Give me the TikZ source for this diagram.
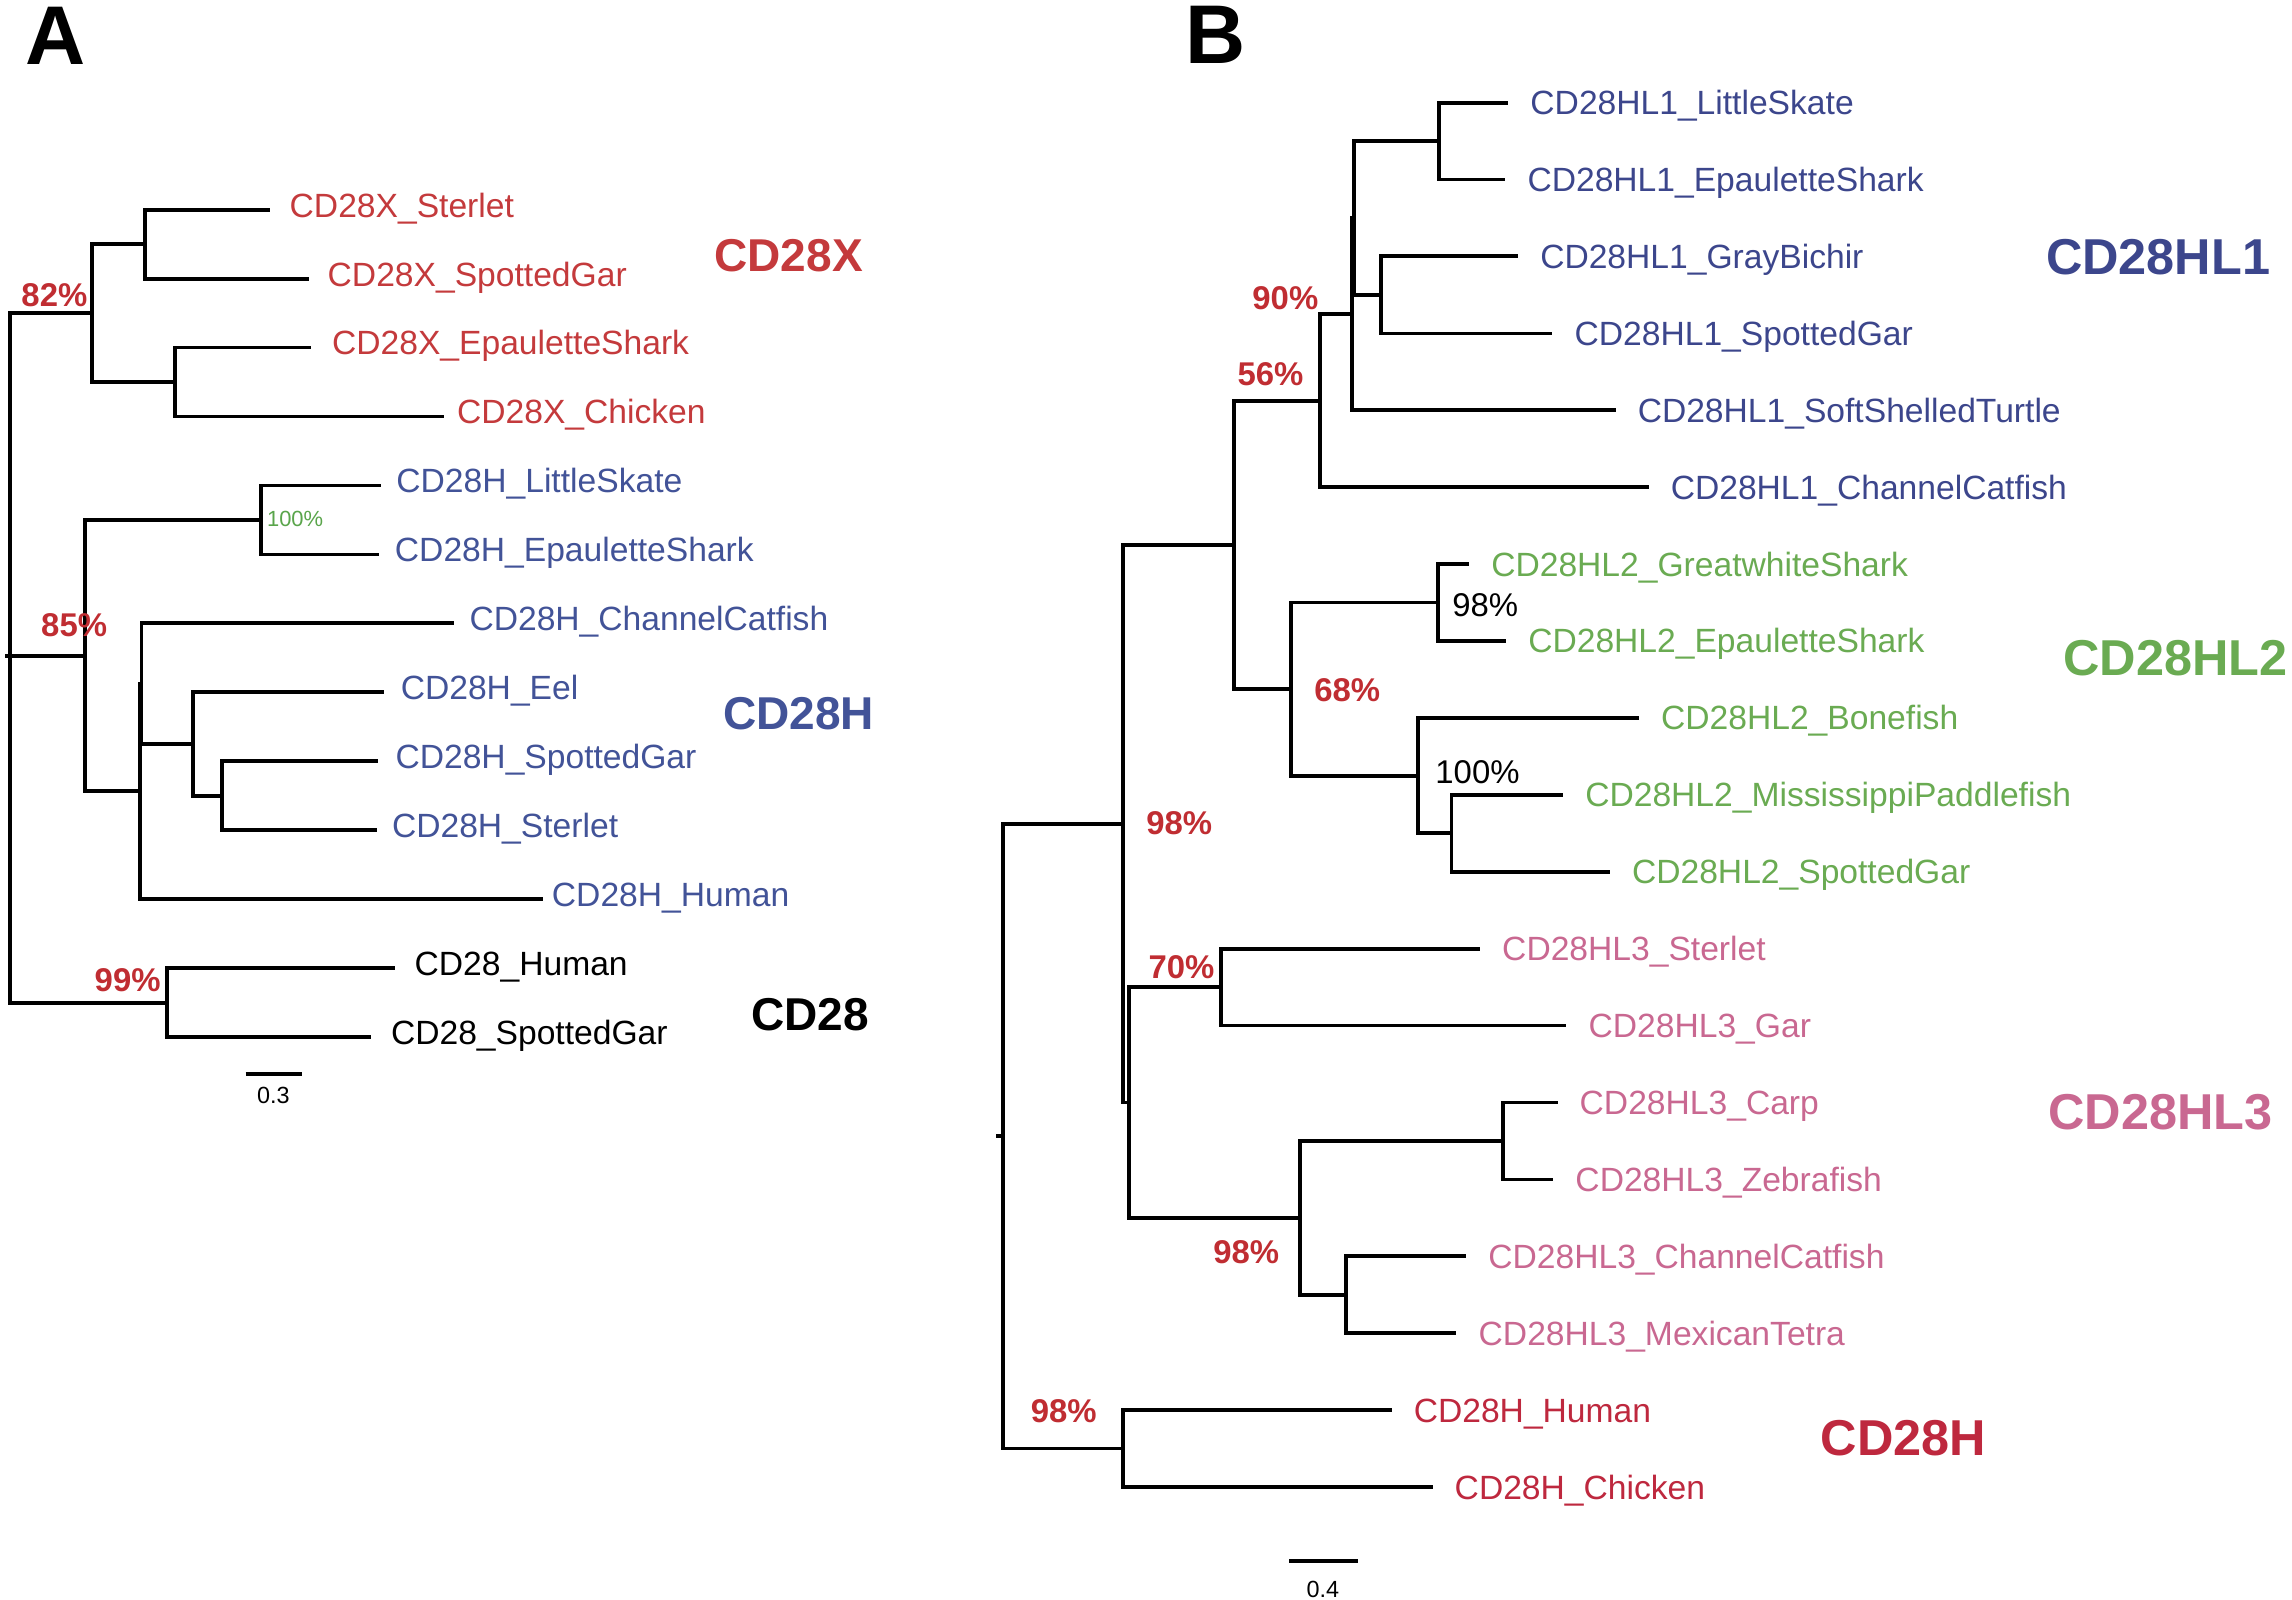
\documentclass[tikz,border=0pt]{standalone}
\usepackage{fontspec}
\setmainfont{Liberation Sans}
\definecolor{xred}{RGB}{196,58,60}
\definecolor{hblue}{RGB}{66,83,152}
\definecolor{lblue}{RGB}{60,70,140}
\definecolor{lgreen}{RGB}{106,171,82}
\definecolor{lpink}{RGB}{201,104,145}
\definecolor{hred}{RGB}{190,40,62}
\definecolor{bred}{RGB}{192,45,50}
\definecolor{sgreen}{RGB}{90,165,75}
\tikzset{
 br/.style={line width=2.6pt, line cap=butt},
 lA/.style={anchor=base west, inner sep=0pt, font=\fontsize{23}{27}\selectfont},
 lB/.style={anchor=base west, inner sep=0pt, font=\fontsize{23}{27}\selectfont},
 boot/.style={anchor=base west, inner sep=0pt, font=\bfseries\fontsize{22.5}{26}\selectfont, text=bred},
 bootk/.style={anchor=base west, inner sep=0pt, font=\fontsize{22.5}{26}\selectfont, text=black},
 bootg/.style={anchor=base west, inner sep=0pt, font=\fontsize{15}{18}\selectfont, text=sgreen},
 cladeA/.style={anchor=base west, inner sep=0pt, font=\bfseries\fontsize{31.5}{36}\selectfont},
 cladeB/.style={anchor=base west, inner sep=0pt, font=\bfseries\fontsize{34.5}{40}\selectfont},
 panel/.style={anchor=base west, inner sep=0pt, font=\bfseries\fontsize{57}{60}\selectfont},
 sbar/.style={anchor=base, inner sep=0pt, font=\fontsize{16}{18}\selectfont},
}
\begin{document}
\begin{tikzpicture}[x=1pt,y=-1pt]
\fill[white] (0,0) rectangle (1568,1094);
\useasboundingbox (0,0) rectangle (1568,1094);

% ---------------- Panel letters
\node[panel] (pA) at (17,44) {A};
\node[panel] (pB) at (810.5,43.3) {B};

% ================= PANEL A =================
\coordinate (rA0) at (3.5,448.55);
\coordinate (rA) at (7,448.55);
\coordinate (aX) at (63,214.15);
\coordinate (aXa) at (99,167);
\coordinate (aXb) at (119.7,261.3);
\coordinate (tXster) at (184.6,143.4);
\coordinate (tXsg) at (211.6,190.6);
\coordinate (tXep) at (213,237.7);
\coordinate (tXch) at (304,284.9);
\coordinate (aH) at (58,448.55);
\coordinate (aHa) at (178.8,355.7);
\coordinate (tHls) at (260.6,332.1);
\coordinate (tHep) at (259.5,379.3);
\coordinate (aHb) at (95.75,541.4);
\coordinate (aHs) at (96.8,467.69);
\coordinate (tHcc) at (310.8,426.4);
\coordinate (aHc) at (132,508.98);
\coordinate (tHeel) at (262.5,473.6);
\coordinate (aHd) at (151.7,544.35);
\coordinate (tHsg) at (258.7,520.8);
\coordinate (tHst) at (257.9,567.9);
\coordinate (tHhu) at (371.4,615.1);
\coordinate (aC) at (114.3,685.9);
\coordinate (tChu) at (270.3,662.3);
\coordinate (tCsg) at (253.7,709.5);

\draw[br] (rA0) -- (rA);
\foreach \c in {aX,aH,aC} \draw[br] (rA) |- (\c);
\foreach \c in {aXa,aXb} \draw[br] (aX) |- (\c);
\foreach \c in {tXster,tXsg} \draw[br] (aXa) |- (\c);
\foreach \c in {tXep,tXch} \draw[br] (aXb) |- (\c);
\foreach \c in {aHa,aHb} \draw[br] (aH) |- (\c);
\foreach \c in {tHls,tHep} \draw[br] (aHa) |- (\c);
\foreach \c in {aHs,tHhu} \draw[br] (aHb) |- (\c);
\foreach \c in {tHcc,aHc} \draw[br] (aHs) |- (\c);
\foreach \c in {tHeel,aHd} \draw[br] (aHc) |- (\c);
\foreach \c in {tHsg,tHst} \draw[br] (aHd) |- (\c);
\foreach \c in {tChu,tCsg} \draw[br] (aC) |- (\c);

\node[lA, text=xred] (lXster) at (198,148.5) {CD28X\_Sterlet};
\node[lA, text=xred] (lXsg) at (224,195.7) {CD28X\_SpottedGar};
\node[lA, text=xred] (lXep) at (227,242.8) {CD28X\_EpauletteShark};
\node[lA, text=xred] (lXch) at (312.5,290) {CD28X\_Chicken};
\node[lA, text=hblue] (lHls) at (271,337.2) {CD28H\_LittleSkate};
\node[lA, text=hblue] (lHep) at (270,384.4) {CD28H\_EpauletteShark};
\node[lA, text=hblue] (lHcc) at (321,431.5) {CD28H\_ChannelCatfish};
\node[lA, text=hblue] (lHeel) at (274,478.7) {CD28H\_Eel};
\node[lA, text=hblue] (lHsg) at (270.4,525.9) {CD28H\_SpottedGar};
\node[lA, text=hblue] (lHst) at (268,573) {CD28H\_Sterlet};
\node[lA, text=hblue] (lHhu) at (377.4,620.2) {CD28H\_Human};
\node[lA, text=black] (lChu) at (283.5,667.4) {CD28\_Human};
\node[lA, text=black] (lCsg) at (267.3,714.6) {CD28\_SpottedGar};

\node[boot] (b82) at (14.5,210) {82\%};
\node[boot] (b85) at (28,435.6) {85\%};
\node[boot] (b99) at (64.6,678.4) {99\%};
\node[bootg] (b100g) at (182.5,360) {100\%};

\node[cladeA, text=xred] (cX) at (488.6,186) {CD28X};
\node[cladeA, text=hblue] (cH) at (494.6,499) {CD28H};
\node[cladeA, text=black] (cC) at (513.6,705) {CD28};

\coordinate (sA1) at (168,734.8);
\coordinate (sA2) at (206.6,734.8);
\draw[br] (sA1) -- (sA2);
\node[sbar] (sAl) at (187,755) {0.3};

% ================= PANEL B =================
\coordinate (rB0) at (681.4,777.25);
\coordinate (rB) at (686.2,777.25);
\coordinate (nB1) at (768.3,563.5);
\coordinate (nB2) at (844,372.75);
\coordinate (nB3) at (903,274.1);
\coordinate (nB4) at (924.7,214.9);
\coordinate (nQ) at (926.5,149.1);
\coordinate (nB5) at (984.3,96.5);
\coordinate (nB6) at (944.8,201.75);
\coordinate (nB7) at (883,471.4);
\coordinate (nB8) at (983.5,412.2);
\coordinate (nB9) at (969.9,530.65);
\coordinate (nB10) at (993,570.1);
\coordinate (nB11) at (772.1,754.25);
\coordinate (nB12) at (835.5,675.3);
\coordinate (nB13) at (889.3,833.2);
\coordinate (nB14) at (1028.4,780.6);
\coordinate (nB15) at (921,885.8);
\coordinate (nB16) at (768.3,991);

\coordinate (tLS) at (1031.8,70.2);
\coordinate (tEp1) at (1029.8,122.8);
\coordinate (tGB) at (1038.5,175.4);
\coordinate (tSG1) at (1062,228.1);
\coordinate (tTur) at (1105.2,280.7);
\coordinate (tCC1) at (1127.8,333.3);
\coordinate (tGW) at (1005,385.9);
\coordinate (tEp2) at (1030.3,438.5);
\coordinate (tBon) at (1121.2,491.2);
\coordinate (tMP) at (1069.3,543.8);
\coordinate (tSG2) at (1101.3,596.4);
\coordinate (tSt3) at (1012.5,649.0);
\coordinate (tGar) at (1071.6,701.6);
\coordinate (tCarp) at (1065.5,754.3);
\coordinate (tZeb) at (1062.6,806.9);
\coordinate (tCC3) at (1003,859.5);
\coordinate (tMT) at (996.4,912.1);
\coordinate (tHu) at (952,964.7);
\coordinate (tCh) at (980,1017.3);

\draw[br] (rB0) -- (rB);
\foreach \c in {nB1,nB16} \draw[br] (rB) |- (\c);
\foreach \c in {nB2,nB11} \draw[br] (nB1) |- (\c);
\foreach \c in {nB3,nB7} \draw[br] (nB2) |- (\c);
\foreach \c in {nB4,tCC1} \draw[br] (nB3) |- (\c);
\foreach \c in {nQ,tTur} \draw[br] (nB4) |- (\c);
\foreach \c in {nB5,nB6} \draw[br] (nQ) |- (\c);
\foreach \c in {tLS,tEp1} \draw[br] (nB5) |- (\c);
\foreach \c in {tGB,tSG1} \draw[br] (nB6) |- (\c);
\foreach \c in {nB8,nB9} \draw[br] (nB7) |- (\c);
\foreach \c in {tGW,tEp2} \draw[br] (nB8) |- (\c);
\foreach \c in {tBon,nB10} \draw[br] (nB9) |- (\c);
\foreach \c in {tMP,tSG2} \draw[br] (nB10) |- (\c);
\foreach \c in {nB12,nB13} \draw[br] (nB11) |- (\c);
\foreach \c in {tSt3,tGar} \draw[br] (nB12) |- (\c);
\foreach \c in {nB14,nB15} \draw[br] (nB13) |- (\c);
\foreach \c in {tCarp,tZeb} \draw[br] (nB14) |- (\c);
\foreach \c in {tCC3,tMT} \draw[br] (nB15) |- (\c);
\foreach \c in {tHu,tCh} \draw[br] (nB16) |- (\c);

\node[lB, text=lblue] (lLS) at ([shift={(15,8.2)}]tLS) {CD28HL1\_LittleSkate};
\node[lB, text=lblue] (lEp1) at ([shift={(15,8.2)}]tEp1) {CD28HL1\_EpauletteShark};
\node[lB, text=lblue] (lGB) at ([shift={(15,8.2)}]tGB) {CD28HL1\_GrayBichir};
\node[lB, text=lblue] (lSG1) at ([shift={(15,8.2)}]tSG1) {CD28HL1\_SpottedGar};
\node[lB, text=lblue] (lTur) at ([shift={(15,8.2)}]tTur) {CD28HL1\_SoftShelledTurtle};
\node[lB, text=lblue] (lCC1) at ([shift={(15,8.2)}]tCC1) {CD28HL1\_ChannelCatfish};
\node[lB, text=lgreen] (lGW) at ([shift={(15,8.2)}]tGW) {CD28HL2\_GreatwhiteShark};
\node[lB, text=lgreen] (lEp2) at ([shift={(15,8.2)}]tEp2) {CD28HL2\_EpauletteShark};
\node[lB, text=lgreen] (lBon) at ([shift={(15,8.2)}]tBon) {CD28HL2\_Bonefish};
\node[lB, text=lgreen] (lMP) at ([shift={(15,8.2)}]tMP) {CD28HL2\_MississippiPaddlefish};
\node[lB, text=lgreen] (lSG2) at ([shift={(15,8.2)}]tSG2) {CD28HL2\_SpottedGar};
\node[lB, text=lpink] (lSt3) at ([shift={(15,8.2)}]tSt3) {CD28HL3\_Sterlet};
\node[lB, text=lpink] (lGar) at ([shift={(15,8.2)}]tGar) {CD28HL3\_Gar};
\node[lB, text=lpink] (lCarp) at ([shift={(15,8.2)}]tCarp) {CD28HL3\_Carp};
\node[lB, text=lpink] (lZeb) at ([shift={(15,8.2)}]tZeb) {CD28HL3\_Zebrafish};
\node[lB, text=lpink] (lCC3) at ([shift={(15,8.2)}]tCC3) {CD28HL3\_ChannelCatfish};
\node[lB, text=lpink] (lMT) at ([shift={(15,8.2)}]tMT) {CD28HL3\_MexicanTetra};
\node[lB, text=hred] (lHu) at ([shift={(15,8.2)}]tHu) {CD28H\_Human};
\node[lB, text=hred] (lCh) at ([shift={(15,8.2)}]tCh) {CD28H\_Chicken};

\node[boot] (b90) at (856.6,212) {90\%};
\node[boot] (b56) at (846.5,263.4) {56\%};
\node[boot] (b68) at (899,480) {68\%};
\node[boot] (b98a) at (784,571) {98\%};
\node[boot] (b70) at (785.5,669.2) {70\%};
\node[boot] (b98b) at (829.8,864.6) {98\%};
\node[boot] (b98c) at (705,973) {98\%};
\node[bootk] (b98k) at (993.4,421.9) {98\%};
\node[bootk] (b100k) at (981.8,535.9) {100\%};

\node[cladeB, text=lblue] (cHL1) at (1399.5,188) {CD28HL1};
\node[cladeB, text=lgreen] (cHL2) at (1411.5,461.8) {CD28HL2};
\node[cladeB, text=lpink] (cHL3) at (1401,773) {CD28HL3};
\node[cladeB, text=hred] (cHB) at (1245.5,996) {CD28H};

\coordinate (sB1) at (882,1067.7);
\coordinate (sB2) at (928.7,1067.7);
\draw[br] (sB1) -- (sB2);
\node[sbar] (sBl) at (905,1093) {0.4};
\end{tikzpicture}
\end{document}
